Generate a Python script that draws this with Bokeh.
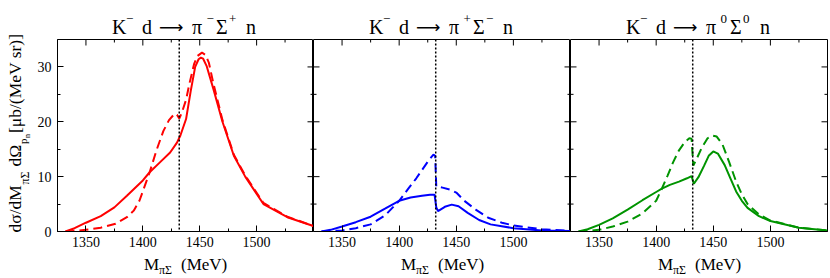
from math import pi
from bokeh.plotting import figure
from bokeh.models import FixedTicker, Span, Label, Range1d
from bokeh.layouts import row, column
from bokeh.embed import file_html
from bokeh.resources import INLINE

FONT = "Liberation Serif"

# ---------------- data ----------------
x_major = [1350, 1400, 1450, 1500]
x_minor = [1375, 1425, 1475, 1525]
y_major = [0, 10, 20, 30]
y_minor = [5, 15, 25]
x_lo, x_hi = 1325, 1550
y_lo, y_hi = 0, 35
threshold = 1432

# panel 1: K- d -> pi- Sigma+ n  (red)
m1_full = [1332, 1340, 1350, 1363, 1375, 1386, 1400, 1406, 1415, 1424, 1430, 1433, 1438, 1442, 1446,
           1449, 1451, 1453, 1456, 1462, 1470, 1480, 1490, 1506, 1527, 1550]
s1_full = [0.0, 0.6, 1.6, 2.8, 4.4, 6.5, 9.3, 10.8, 12.6, 14.4, 16.2, 17.5, 20.5, 25.5, 30.0,
           31.4, 31.7, 31.5, 30.2, 26.0, 20.0, 13.8, 10.0, 5.0, 2.6, 1.0]
m1_dash = [1332, 1340, 1350, 1363, 1376, 1386, 1392, 1397, 1401, 1406, 1412, 1418, 1423, 1428, 1430,
           1432, 1434, 1438, 1441, 1445, 1448, 1452, 1455, 1458, 1462, 1470, 1480, 1490, 1506, 1527, 1550]
s1_dash = [0.0, 0.1, 0.3, 0.7, 1.4, 2.6, 3.8, 5.6, 7.9, 10.8, 14.8, 18.3, 20.3, 21.5, 21.3,
           20.6, 21.5, 24.0, 27.0, 30.5, 32.0, 32.6, 32.2, 30.8, 27.0, 20.3, 14.0, 10.2, 5.2, 2.7, 1.0]

# panel 2: K- d -> pi+ Sigma- n  (blue)
m2_full = [1332, 1340, 1350, 1362, 1375, 1388, 1400, 1410, 1420, 1427, 1431, 1432.5, 1434, 1440,
           1446, 1452, 1460, 1470, 1480, 1500, 1525, 1550]
s2_full = [0.0, 0.3, 0.9, 1.7, 2.7, 4.2, 5.6, 6.2, 6.5, 6.7, 6.7, 4.4, 3.7, 4.5,
           4.9, 4.6, 3.4, 2.1, 1.3, 0.6, 0.2, 0.1]
m2_dash = [1332, 1340, 1350, 1362, 1375, 1388, 1400, 1408, 1415, 1421, 1426, 1430, 1431.5,
           1432.5, 1438, 1445, 1450, 1457, 1467, 1478, 1490, 1500, 1525, 1550]
s2_dash = [0.0, 0.1, 0.2, 0.6, 1.3, 3.0, 5.6, 7.8, 9.7, 11.5, 13.0, 14.0, 13.8,
           8.2, 8.0, 7.6, 7.1, 5.6, 4.0, 2.5, 1.6, 1.1, 0.4, 0.1]

# panel 3: K- d -> pi0 Sigma0 n  (green)
m3_full = [1332, 1340, 1350, 1362, 1375, 1388, 1400, 1405, 1412, 1420, 1427, 1431, 1433, 1437,
           1442, 1446, 1450, 1454, 1460, 1465, 1470, 1475, 1480, 1490, 1500, 1525, 1550]
s3_full = [0.0, 0.4, 1.2, 2.4, 4.0, 5.7, 7.2, 7.8, 8.5, 9.1, 9.7, 10.1, 8.7, 9.9,
           12.0, 13.8, 14.6, 14.2, 12.1, 9.7, 7.3, 5.6, 4.3, 2.8, 1.9, 0.7, 0.2]
m3_dash = [1332, 1340, 1350, 1362, 1375, 1388, 1400, 1405, 1410, 1415, 1420, 1425, 1429, 1431,
           1432.5, 1436, 1440, 1445, 1449, 1453, 1458, 1464, 1470, 1475, 1480, 1490, 1500, 1525, 1550]
s3_dash = [0.0, 0.1, 0.3, 0.9, 1.8, 3.3, 5.6, 7.8, 10.2, 12.7, 14.8, 16.3, 17.0, 16.9,
           12.0, 13.5, 15.3, 17.0, 17.5, 17.3, 15.9, 12.6, 9.1, 6.8, 5.0, 3.1, 2.0, 0.7, 0.2]

panels = [
    dict(m_full=m1_full, s_full=s1_full, m_dash=m1_dash, s_dash=s1_dash, color="#ff0000",
         charge=("\u2212", "+")),
    dict(m_full=m2_full, s_full=s2_full, m_dash=m2_dash, s_dash=s2_dash, color="#0000ff",
         charge=("+", "\u2212")),
    dict(m_full=m3_full, s_full=s3_full, m_dash=m3_dash, s_dash=s3_dash, color="#009400",
         charge=("0", "0")),
]

# ---------------- layout constants (pixels) ----------------
YLAB_W = 34          # strip holding the rotated y label
TICKLAB_W = 22       # left border of panel 1 for tick labels
FRAME_W, FRAME_H = 257, 192
TITLE_H = 38
TOP_B = 1
BOTTOM_B = 22
RIGHT_B = 3
TOTAL_W, TOTAL_H = 830, 278
XLAB_H = TOTAL_H - TITLE_H - TOP_B - FRAME_H - BOTTOM_B
COL_W = TOTAL_W - YLAB_W


def canvas(w, h):
    c = figure(width=w, height=h, x_range=Range1d(0, w), y_range=Range1d(0, h),
               output_backend="svg", toolbar_location=None,
               x_axis_location=None, y_axis_location=None,
               min_border=0, min_border_left=0, min_border_right=0,
               min_border_top=0, min_border_bottom=0)
    c.xgrid.visible = False
    c.ygrid.visible = False
    c.outline_line_color = None
    c.background_fill_color = "white"
    c.border_fill_color = "white"
    return c


def label(c, text, x, y, size, angle=0.0, font=FONT):
    c.add_layout(Label(x=x, y=y, text=text, text_font=font, text_font_size=f"{size}px",
                       text_color="black", angle=angle, text_align="left",
                       text_baseline="alphabetic"))


def inward_ticks(p, ax):
    ax.axis_line_color = "black"
    ax.major_tick_in = 6
    ax.major_tick_out = 0
    ax.minor_tick_in = 3
    ax.minor_tick_out = 0
    ax.major_tick_line_color = "black"
    ax.minor_tick_line_color = "black"
    ax.major_label_text_font = FONT
    ax.major_label_text_font_size = "14px"
    ax.major_label_text_color = "black"


# ---------------- panels ----------------
figs = []
for i, d in enumerate(panels):
    first = i == 0
    last = i == len(panels) - 1
    w = FRAME_W + (TICKLAB_W if first else 0) + (RIGHT_B if last else 0)
    p = figure(width=w, height=TOP_B + FRAME_H + BOTTOM_B,
               x_range=Range1d(x_lo, x_hi), y_range=Range1d(y_lo, y_hi),
               output_backend="svg", toolbar_location=None,
               x_axis_location="below", y_axis_location="left" if first else None,
               min_border_left=TICKLAB_W if first else 0,
               min_border_right=RIGHT_B if last else 0,
               min_border_top=TOP_B, min_border_bottom=BOTTOM_B)
    p.outline_line_color = "black"
    p.outline_line_width = 1
    p.xgrid.visible = False
    p.ygrid.visible = False
    p.background_fill_color = "white"
    p.border_fill_color = "white"

    p.xaxis.ticker = FixedTicker(ticks=x_major, minor_ticks=x_minor)
    inward_ticks(p, p.xaxis[0])
    p.xaxis.major_label_standoff = 5
    if first:
        p.yaxis.ticker = FixedTicker(ticks=y_major, minor_ticks=y_minor)
        inward_ticks(p, p.yaxis[0])
        p.yaxis.major_label_standoff = 6

    # inward ticks on the other edges (clipped to the frame, so only the inner half shows)
    p.scatter(x_major, [y_hi] * len(x_major), marker="dash", angle=pi / 2, size=12,
              line_color="black", line_width=1)
    p.scatter(x_minor, [y_hi] * len(x_minor), marker="dash", angle=pi / 2, size=6,
              line_color="black", line_width=1)
    edges = [x_hi] if first else [x_lo, x_hi]
    for ex in edges:
        p.scatter([ex] * len(y_major), y_major, marker="dash", size=12,
                  line_color="black", line_width=1)
        p.scatter([ex] * len(y_minor), y_minor, marker="dash", size=6,
                  line_color="black", line_width=1)

    # curves
    p.line(d["m_full"], d["s_full"], line_color=d["color"], line_width=2)
    p.line(d["m_dash"], d["s_dash"], line_color=d["color"], line_width=2, line_dash="9 5")
    p.add_layout(Span(location=threshold, dimension="height", line_color="black",
                      line_width=1.5, line_dash="2 2"))
    figs.append(p)

# ---------------- text strips ----------------
title_c = canvas(COL_W, TITLE_H)
xlab_c = canvas(COL_W, XLAB_H)
centers = [TICKLAB_W + FRAME_W * (k + 0.5) for k in range(3)]
for xc, d in zip(centers, panels):
    a, b = d["charge"]
    base, sup = 12, 19.5
    label(title_c, "K", xc - 73, base, 20)
    label(title_c, "\u2212", xc - 59, sup, 13)
    label(title_c, "d", xc - 43, base, 20)
    label(title_c, "\u27f6", xc - 26, base, 17, font="DejaVu Sans")
    label(title_c, "\u03c0", xc + 7, base, 20)
    label(title_c, a, xc + 21.5, sup, 13)
    label(title_c, "\u03a3", xc + 31, base, 20)
    label(title_c, b, xc + 44, sup, 13)
    label(title_c, "n", xc + 61, base, 20)

    label(xlab_c, "M", xc - 41, 14, 17)
    label(xlab_c, "\u03c0\u03a3", xc - 26, 9, 12)
    label(xlab_c, "(MeV)", xc - 4, 14, 17)

ylab_c = canvas(YLAB_W, TOTAL_H)
label(ylab_c, "d\u03c3/dM", 14.5, TOTAL_H - 232, 17.5, pi / 2)
label(ylab_c, "\u03c0\u03a3", 24.5, TOTAL_H - 184, 12, pi / 2)
label(ylab_c, "d\u03a9", 14.5, TOTAL_H - 166, 17.5, pi / 2)
label(ylab_c, "p", 22.5, TOTAL_H - 143.5, 11, pi / 2)
label(ylab_c, "n", 26.5, TOTAL_H - 137.5, 8, pi / 2)
label(ylab_c, "[\u03bcb/(MeV sr)]", 14.5, TOTAL_H - 132.5, 17.5, pi / 2)

layout = row(ylab_c, column(title_c, row(*figs, spacing=0), xlab_c, spacing=0), spacing=0)
open("out.html", "w").write(file_html(layout, INLINE))
